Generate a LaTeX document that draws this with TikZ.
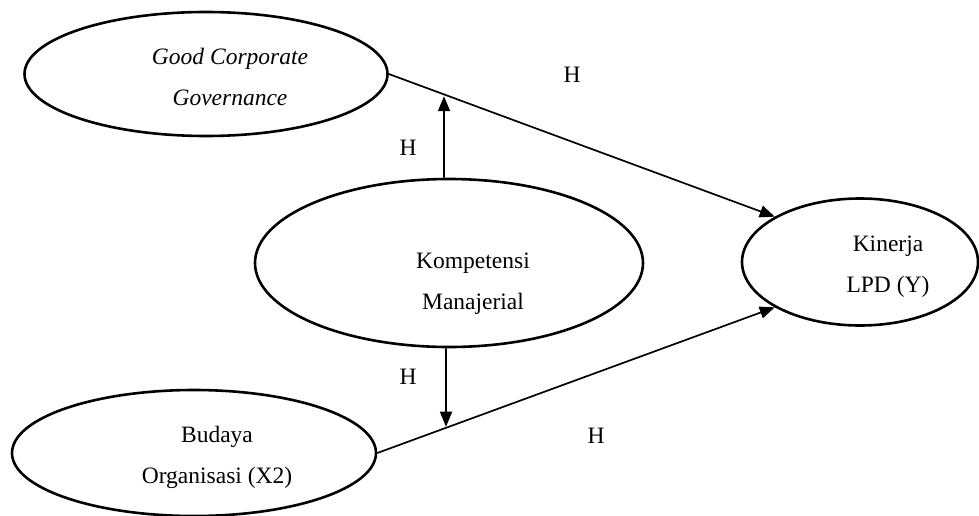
\documentclass[tikz,border=0pt]{standalone}
\usepackage{fontspec}
\setmainfont{Liberation Serif}
\usetikzlibrary{positioning,arrows.meta,calc,shapes.geometric}

\begin{document}
\begin{tikzpicture}[
  x=1pt, y=-1pt,
  var/.style={draw, ellipse, line width=2.6pt, inner sep=0pt},
  txt/.style={align=center, font=\fontsize{23.5}{41}\selectfont},
  hyp/.style={font=\fontsize{23.5}{28}\selectfont},
  path/.style={-{Triangle[length=15pt,width=12pt]}, line width=1.7pt},
  >=latex
]
\useasboundingbox (0,0) rectangle (979,516);

% latent variables
\node[var, minimum width=363pt, minimum height=124pt] (gcg) at (206,74) {};
\node[var, minimum width=388pt, minimum height=168pt] (kom) at (449,263) {};
\node[var, minimum width=236pt, minimum height=127pt] (kin) at (860,262) {};
\node[var, minimum width=364pt, minimum height=126pt] (bud) at (194,453) {};

\node[txt, font=\fontsize{23.5}{41}\selectfont\itshape] (gcgtxt) at (230,77) {Good Corporate\\Governance};
\node[txt] (komtxt) at (473,284) {Kompetensi\\Manajerial};
\node[txt] (kintxt) at (888,267) {Kinerja\\LPD (Y)};
\node[txt] (budtxt) at (217,457) {Budaya\\Organisasi (X2)};

% direct paths
\draw[path] (gcg.east) -- (kin.152);
\draw[path] (bud.east) -- (kin.208);

% moderating paths
\coordinate (up) at (intersection of kom.north--kom.center and gcg.east--kin.152);
\coordinate (dn) at (intersection of kom.south--kom.center and bud.east--kin.208);
\draw[path] ([xshift=-5pt]kom.north) -- ([xshift=-5pt]up);
\draw[path] ([xshift=-3pt]kom.south) -- ([xshift=-3pt]dn);

% hypothesis labels
\node[hyp] (h1) at (572,75) {H};
\node[hyp] (h2) at (408,148) {H};
\node[hyp] (h3) at (408,377) {H};
\node[hyp] (h4) at (596,436) {H};
\end{tikzpicture}
\end{document}
